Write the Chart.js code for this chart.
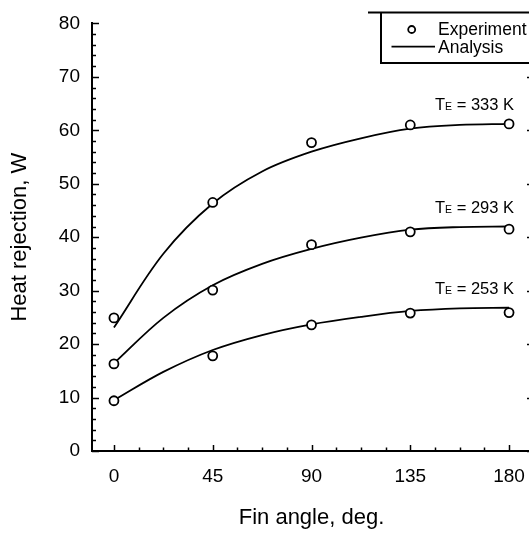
<!DOCTYPE html>
<html>
<head>
<meta charset="utf-8">
<script src="https://cdn.jsdelivr.net/npm/chart.js@4.4.0/dist/chart.umd.min.js"></script>
<style>
html,body{margin:0;padding:0;background:#fff;overflow:hidden;}
#wrap{position:relative;width:540px;height:533px;}
</style>
</head>
<body>
<div id="wrap"><canvas id="c"></canvas></div>
<script>
// Data
const angles = [0, 45, 90, 135, 180];
const exp333 = [24.9, 46.5, 57.7, 61.0, 61.2];
const exp293 = [16.3, 30.1, 38.6, 41.0, 41.5];
const exp253 = [9.4, 17.8, 23.6, 25.8, 25.9];
const fitAngles = [0, 22.5, 45, 67.5, 90, 112.5, 135, 157.5, 180];
const fit333 = [23.1, 36.9, 46.3, 52.3, 56.0, 58.5, 60.3, 61.0, 61.2];
const fit293 = [16.4, 24.9, 31.0, 35.0, 37.8, 39.9, 41.4, 41.9, 42.0];
const fit253 = [9.5, 14.8, 18.9, 21.7, 23.7, 25.1, 26.2, 26.7, 26.8];
const curveTemps = ['333 K', '293 K', '253 K'];
const xTicks = [0, 45, 90, 135, 180];
const yTicks = [0, 10, 20, 30, 40, 50, 60, 70, 80];
const legendLabels = ['Experiment', 'Analysis'];

const FONT = "'Liberation Sans', Arial, Helvetica, sans-serif";
const pts = (xs, ys) => xs.map((x, i) => ({x: x, y: ys[i]}));

const fits = [fit333, fit293, fit253];
const exps = [exp333, exp293, exp253];
const datasets = [];
fits.forEach((f, i) => datasets.push({
  data: pts(fitAngles, f), showLine: true, borderColor: '#000', borderWidth: 1.8,
  pointRadius: 0, tension: 0.35, order: 2, fill: false
}));
exps.forEach((e, i) => datasets.push({
  data: pts(angles, e), showLine: false, borderColor: '#000', backgroundColor: '#fff',
  pointRadius: 4.5, pointBorderWidth: 1.8, order: 1
}));

const decor = {
  id: 'decor',
  afterDraw(chart) {
    const ctx = chart.ctx, xs = chart.scales.x, ys = chart.scales.y, a = chart.chartArea;
    ctx.save();
    ctx.strokeStyle = '#000';
    ctx.fillStyle = '#000';
    ctx.lineWidth = 1.5;
    // left y ticks (inward) and right-side major ticks
    for (let v = 0; v <= 80; v += 2) {
      const y = Math.round(ys.getPixelForValue(v)) + 0.5;
      const len = (v % 10 === 0) ? 7 : 4;
      ctx.beginPath(); ctx.moveTo(a.left, y); ctx.lineTo(a.left + len, y); ctx.stroke();
      if (v % 10 === 0 && v < 80) {
        ctx.beginPath(); ctx.moveTo(a.right, y); ctx.lineTo(a.right - 4, y); ctx.stroke();
      }
    }
    // bottom x ticks (inward)
    for (let v = 0; v <= 190; v += 11.25) {
      const x = Math.round(xs.getPixelForValue(v)) + 0.5;
      const len = (Math.abs(v % 45) < 1e-6) ? 6 : 3.5;
      ctx.beginPath(); ctx.moveTo(x, a.bottom); ctx.lineTo(x, a.bottom - len); ctx.stroke();
    }
    // legend box
    ctx.lineWidth = 2;
    ctx.beginPath();
    ctx.moveTo(368, 12.5); ctx.lineTo(560, 12.5);
    ctx.moveTo(381, 12.5); ctx.lineTo(381, 63); ctx.lineTo(560, 63);
    ctx.stroke();
    // legend entries
    ctx.lineWidth = 1.8;
    ctx.beginPath(); ctx.arc(411.7, 29.5, 3.5, 0, Math.PI * 2);
    ctx.fillStyle = '#fff'; ctx.fill(); ctx.stroke();
    ctx.beginPath(); ctx.moveTo(391.5, 46.7); ctx.lineTo(435, 46.7); ctx.stroke();
    ctx.fillStyle = '#000';
    ctx.font = '17.5px ' + FONT;
    ctx.textBaseline = 'middle';
    ctx.textAlign = 'left';
    ctx.fillText(legendLabels[0], 438, 30);
    ctx.fillText(legendLabels[1], 438, 48);
    // curve labels
    fits.forEach((f, i) => {
      const xR = xs.getPixelForValue(180) + 5;
      const yC = ys.getPixelForValue(f[f.length - 1]) - 20;
      const big = '16.5px ' + FONT, small = '10.5px ' + FONT;
      const rest = ' = ' + curveTemps[i];
      ctx.font = big; const wT = ctx.measureText('T').width; const wR = ctx.measureText(rest).width;
      ctx.font = small; const wE = ctx.measureText('E').width;
      let x = xR - wR - wE - wT;
      ctx.textBaseline = 'alphabetic';
      const base = yC + 6;
      ctx.font = big; ctx.fillText('T', x, base); x += wT;
      ctx.font = small; ctx.fillText('E', x, base); x += wE;
      ctx.font = big; ctx.fillText(rest, x, base);
    });
    ctx.restore();
  }
};

new Chart(document.getElementById('c'), {
  type: 'scatter',
  data: {datasets: datasets},
  options: {
    responsive: true, maintainAspectRatio: false, animation: false,
    layout: {padding: {top: 12, right: 9, left: 0, bottom: 0}},
    plugins: {legend: {display: false}, tooltip: {enabled: false}},
    scales: {
      x: {
        type: 'linear', min: -10, max: 190,
        afterBuildTicks: s => { s.ticks = xTicks.map(v => ({value: v})); },
        afterFit: s => { s.height = 82; },
        grid: {display: false, drawTicks: false},
        border: {display: true, color: '#000', width: 2},
        ticks: {color: '#000', font: {family: FONT, size: 19}, padding: 14, maxRotation: 0},
        title: {display: true, text: 'Fin angle, deg.', color: '#000', font: {family: FONT, size: 22}, padding: {top: 0, bottom: 2}}
      },
      y: {
        type: 'linear', min: 0, max: 80,
        afterBuildTicks: s => { s.ticks = yTicks.map(v => ({value: v})); },
        afterFit: s => { s.width = 92; },
        grid: {display: false, drawTicks: false},
        border: {display: true, color: '#000', width: 2},
        ticks: {color: '#000', font: {family: FONT, size: 19}, padding: 12},
        title: {display: true, text: 'Heat rejection, W', color: '#000', font: {family: FONT, size: 22}, padding: {top: 7, bottom: 0}}
      }
    }
  },
  plugins: [decor]
});
</script>
</body>
</html>
